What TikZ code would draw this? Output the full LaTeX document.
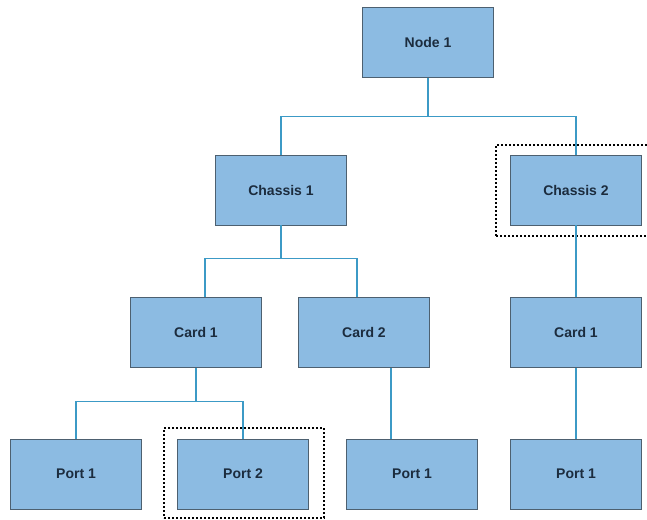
\documentclass[tikz,border=0pt]{standalone}
\usepackage{fontspec}
\setmainfont{Liberation Sans}
\usetikzlibrary{fit,calc}
\definecolor{boxfill}{HTML}{8CBBE2}
\definecolor{boxline}{HTML}{4D6070}
\definecolor{boxtext}{HTML}{1C2C3E}
\definecolor{wire}{HTML}{3C9AC6}
\tikzset{
  unit/.style={draw=boxline, line width=0.9pt, fill=boxfill,
    minimum width=131pt, minimum height=70pt, inner sep=0pt,
    font=\fontsize{14pt}{16pt}\selectfont\bfseries, text=boxtext},
  link/.style={draw=wire, line width=1.7pt},
  focus/.style={draw=black, line width=2pt, dash pattern=on 2pt off 2pt,
    inner sep=0pt}
}
\begin{document}
\begin{tikzpicture}[x=1pt,y=-1pt]
\useasboundingbox (0,0) rectangle (647,519);

% hierarchy boxes
\node[unit] (node1) at (428,42.5) {Node 1};
\node[unit] (chs1)  at (281,190) {Chassis 1};
\node[unit] (chs2)  at (576,190) {Chassis 2};
\node[unit] (cardA) at (196,332.5) {Card 1};
\node[unit] (cardB) at (364,332.5) {Card 2};
\node[unit] (cardC) at (576,332.5) {Card 1};
\node[unit] (portA) at (76,474) {Port 1};
\node[unit] (portB) at (243,474) {Port 2};
\node[unit] (portC) at (412,474) {Port 1};
\node[unit] (portD) at (576,474) {Port 1};

% selection frames
\node[focus, fit={(496,145) (652,236)}] (selchs) {};
\node[focus, fit={(164,428) (324,518)}] (selport) {};

% junction points of the tree
\coordinate (j0) at ($(node1.south)+(0,38.5)$);
\coordinate (j1) at ($(chs1.south)+(0,33)$);
\coordinate (j2) at ($(cardA.south)+(0,33.5)$);
\coordinate (dropA) at ($(cardA.north)+(9,0)$);
\coordinate (dropB) at ($(cardB.north)+(-7,0)$);
\coordinate (c2out) at ($(cardB.south)+(27,0)$);

% connectors
\draw[link] (node1.south) -- (j0);
\draw[link] (j0) -| (chs1.north);
\draw[link] (j0) -| (chs2.north);

\draw[link] (chs1.south) -- (j1);
\draw[link] (j1) -| (dropA);
\draw[link] (j1) -| (dropB);

\draw[link] (cardA.south) -- (j2);
\draw[link] (j2) -| (portA.north);
\draw[link] (j2) -| (portB.north);

\draw[link] (c2out) -- (c2out |- portC.north);
\draw[link] (chs2.south) -- (cardC.north);
\draw[link] (cardC.south) -- (portD.north);
\end{tikzpicture}
\end{document}
